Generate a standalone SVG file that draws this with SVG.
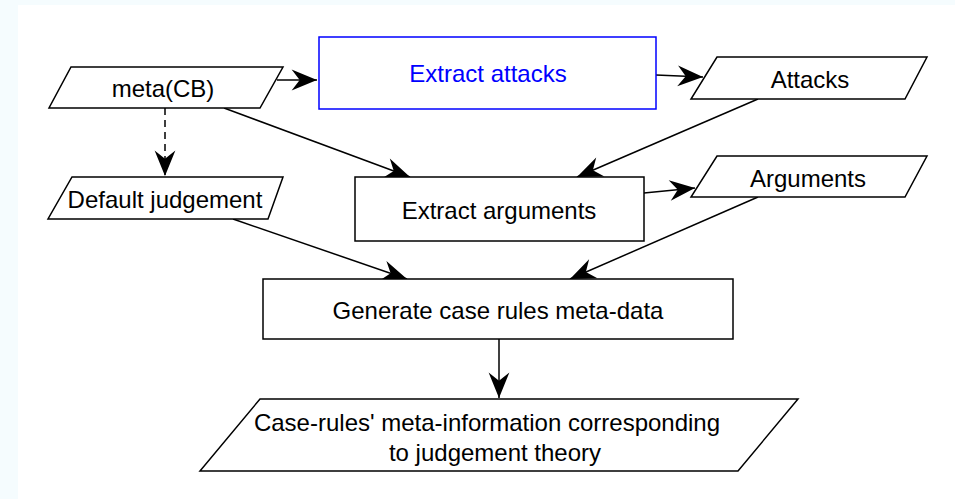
<svg xmlns="http://www.w3.org/2000/svg" width="955" height="499" viewBox="0 0 955 499">
<style>
.shape{fill:#ffffff;stroke:#000000;stroke-width:1.5}
.blue{fill:#ffffff;stroke:#0000ff;stroke-width:1.5}
.lbl{font-family:"Liberation Sans",Arial,sans-serif;font-size:24px;fill:#000000;text-anchor:middle}
.lblb{font-family:"Liberation Sans",Arial,sans-serif;font-size:24px;fill:#0000ff;text-anchor:middle}
.edge{fill:none;stroke:#000000;stroke-width:1.5}
.dash{stroke-dasharray:7 5}
</style>
<defs>
<marker id="arr" markerUnits="userSpaceOnUse" markerWidth="30" markerHeight="30" viewBox="-24 -12 26 24" refX="0" refY="0" orient="auto">
<path d="M0,0 L-22,-9 L-15,0 L-22,9 Z" fill="#000000"/>
</marker>
</defs>
<rect x="0" y="0" width="955" height="499" fill="#f5fcfe"/>
<rect x="18" y="5" width="937" height="494" fill="#ffffff"/>
<g id="connectors">
<line class="edge" x1="277" y1="80" x2="317" y2="80" marker-end="url(#arr)"/>
<line class="edge" x1="224" y1="108" x2="410" y2="177" marker-end="url(#arr)"/>
<line class="edge dash" x1="165" y1="108" x2="165" y2="176" marker-end="url(#arr)"/>
<line class="edge" x1="656" y1="75" x2="703" y2="77" marker-end="url(#arr)"/>
<line class="edge" x1="758" y1="99" x2="577" y2="177" marker-end="url(#arr)"/>
<line class="edge" x1="644" y1="193" x2="695" y2="188" marker-end="url(#arr)"/>
<line class="edge" x1="758" y1="197" x2="570" y2="279" marker-end="url(#arr)"/>
<line class="edge" x1="233" y1="219" x2="407" y2="279" marker-end="url(#arr)"/>
<line class="edge" x1="499" y1="339" x2="499" y2="398" marker-end="url(#arr)"/>
</g>
<g id="metaCB">
<polygon class="shape" points="71,67 283,67 260,108 49,108"/>
<text class="lbl" x="163" y="97">meta(CB)</text>
</g>
<g id="extractAttacks">
<rect class="blue" x="319" y="37" width="337" height="72"/>
<text class="lblb" x="488" y="82">Extract attacks</text>
</g>
<g id="attacks">
<polygon class="shape" points="717,57 927,57 905,99 691,99"/>
<text class="lbl" x="810" y="88">Attacks</text>
</g>
<g id="defaultJudgement">
<polygon class="shape" points="72,177 283,177 268,219 48,219"/>
<text class="lbl" x="165" y="208">Default judgement</text>
</g>
<g id="extractArguments">
<rect class="shape" x="355" y="177" width="289" height="64"/>
<text class="lbl" x="499" y="219">Extract arguments</text>
</g>
<g id="arguments">
<polygon class="shape" points="717,156 927,156 905,197 691,197"/>
<text class="lbl" x="808" y="187">Arguments</text>
</g>
<g id="generate">
<rect class="shape" x="263" y="279" width="470" height="60"/>
<text class="lbl" x="498" y="319">Generate case rules meta-data</text>
</g>
<g id="caseRulesMeta">
<polygon class="shape" points="260,399 798,399 738,471 200,471"/>
<text class="lbl" x="487" y="431">Case-rules' meta-information corresponding</text>
<text class="lbl" x="495" y="461">to judgement theory</text>
</g>
</svg>
